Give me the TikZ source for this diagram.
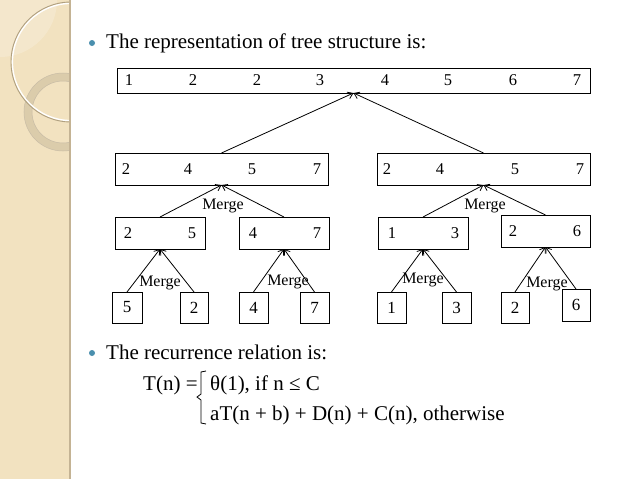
\documentclass[tikz,border=0pt]{standalone}
\usepackage{fontspec}
\setmainfont{Liberation Serif}
\usetikzlibrary{arrows.meta}
\definecolor{stripc}{HTML}{F2E2C0}
\definecolor{stripedge}{HTML}{C4B394}
\definecolor{ringc}{HTML}{D6C7A6}
\definecolor{arcc}{HTML}{B0A080}
\definecolor{bulletc}{HTML}{4A8FAE}
\tikzset{
  box/.style={draw, line width=0.8pt, inner sep=0pt, outer sep=0pt},
  num/.style={inner sep=0pt, font=\fontsize{16.5}{19}\selectfont},
  mrg/.style={inner sep=0pt, font=\fontsize{16}{19}\selectfont},
  arr/.style={line width=0.8pt, -{Straight Barb[length=5pt,width=7pt]}},
  txt/.style={inner sep=0pt, anchor=base west, font=\fontsize{21}{25}\selectfont},
  bul/.style={circle, fill=bulletc, inner sep=0pt, minimum size=6pt}
}
\begin{document}
\begin{tikzpicture}[x=1pt,y=-1pt]
\useasboundingbox (0,0) rectangle (638,479);
\fill[white] (0,0) rectangle (638,479);
% left decorative strip
\fill[stripc] (0,0) rectangle (70,479);
\begin{scope}
\clip (0,0) rectangle (69,479);
\fill[white, opacity=0.2] (0,0) circle (57);
\draw[ringc, line width=8pt, opacity=0.8] (63,112) circle (35);
\draw[arcc!70, line width=0.5pt] (63,112) circle (39);
\draw[arcc!70, line width=0.5pt] (63,112) circle (31);
\draw[white, line width=1.4pt] (71,62) circle (58.6);
\draw[arcc, line width=0.9pt] (71,62) circle (60);
\end{scope}
\fill[stripedge] (68.5,0) rectangle (70.5,479);

% bullets and text
\node[bul] (b1) at (92,43) {};
\node[txt] (t1) at (106,48) {The representation of tree structure is:};
\node[bul] (b2) at (92,353) {};
\node[txt] (t2) at (106,359) {The recurrence relation is:};

% top box
\node[box, minimum width=473pt, minimum height=25pt] (top) at (353.5,80.5) {};
\node[num] (n01) at (129,80.5) {1};
\node[num] (n02) at (193,80.5) {2};
\node[num] (n03) at (257,80.5) {2};
\node[num] (n04) at (320,80.5) {3};
\node[num] (n05) at (385,80.5) {4};
\node[num] (n06) at (448,80.5) {5};
\node[num] (n07) at (513,80.5) {6};
\node[num] (n08) at (577,80.5) {7};

% level 2
\node[box, minimum width=213pt, minimum height=32pt] (la) at (221.5,169) {};
\node[num] (la1) at (126,169) {2};
\node[num] (la2) at (188,169) {4};
\node[num] (la3) at (252,169) {5};
\node[num] (la4) at (317,169) {7};
\node[box, minimum width=213pt, minimum height=32pt] (lb) at (483.5,169) {};
\node[num] (lb1) at (387,169) {2};
\node[num] (lb2) at (440,169) {4};
\node[num] (lb3) at (515,169) {5};
\node[num] (lb4) at (580,169) {7};

% level 3
\node[box, minimum width=90pt, minimum height=32pt] (ma) at (160,233) {};
\node[num] (ma1) at (128,233) {2};
\node[num] (ma2) at (192,233) {5};
\node[box, minimum width=90pt, minimum height=32pt] (mb) at (284,233) {};
\node[num] (mb1) at (253,233) {4};
\node[num] (mb2) at (317,233) {7};
\node[box, minimum width=90pt, minimum height=32pt] (mc) at (423,233) {};
\node[num] (mc1) at (392,233) {1};
\node[num] (mc2) at (455,233) {3};
\node[box, minimum width=89pt, minimum height=32pt] (md) at (545.5,231) {};
\node[num] (md1) at (513,231) {2};
\node[num] (md2) at (577,231) {6};

% leaves
\node[box, minimum width=30pt, minimum height=31pt, font=\fontsize{17}{20}\selectfont] (s1) at (127,307.5) {5};
\node[box, minimum width=28pt, minimum height=31pt, font=\fontsize{17}{20}\selectfont] (s2) at (194,307.5) {2};
\node[box, minimum width=29pt, minimum height=31pt, font=\fontsize{17}{20}\selectfont] (s3) at (253.5,307.5) {4};
\node[box, minimum width=29pt, minimum height=31pt, font=\fontsize{17}{20}\selectfont] (s4) at (314.5,307.5) {7};
\node[box, minimum width=29pt, minimum height=31pt, font=\fontsize{17}{20}\selectfont] (s5) at (391.5,307.5) {1};
\node[box, minimum width=29pt, minimum height=31pt, font=\fontsize{17}{20}\selectfont] (s6) at (456.5,307.5) {3};
\node[box, minimum width=28pt, minimum height=31pt, font=\fontsize{17}{20}\selectfont] (s7) at (515,307.5) {2};
\node[box, minimum width=28pt, minimum height=32pt, font=\fontsize{17}{20}\selectfont] (s8) at (576,305) {6};

% connectors
\draw[arr] (la.north) -- (top.south);
\draw[arr] (lb.north) -- (top.south);
\draw[arr] (ma.north) -- (la.south);
\draw[arr] (mb.north) -- (la.south);
\draw[arr] (mc.north) -- (lb.south);
\draw[arr] (md.north) -- (lb.south);
\draw[arr] (s1.north) -- (ma.south);
\draw[arr] (s2.north) -- (ma.south);
\draw[arr] (s3.north) -- (mb.south);
\draw[arr] (s4.north) -- (mb.south);
\draw[arr] (s5.north) -- (mc.south);
\draw[arr] (s6.north) -- (mc.south);
\draw[arr] (s7.north) -- (md.south);
\draw[arr] (s8.north) -- (md.south);

% merge labels
\node[mrg] (g1) at (223,206) {Merge};
\node[mrg] (g2) at (485,206) {Merge};
\node[mrg] (g3) at (160,283) {Merge};
\node[mrg] (g4) at (288,282) {Merge};
\node[mrg] (g5) at (423,280) {Merge};
\node[mrg] (g6) at (547,284) {Merge};

% recurrence
\node[txt] (e0) at (143,390) {T(n) =};
\draw[line width=0.8pt] (206,371) -- (201,372) -- (201,394) -- (197,397) -- (201,400) -- (201,423) -- (206,424);
\node[txt] (e1) at (210,390) {θ(1), if n ≤ C};
\node[txt] (e2) at (210,420) {aT(n + b) + D(n) + C(n), otherwise};
\end{tikzpicture}
\end{document}
